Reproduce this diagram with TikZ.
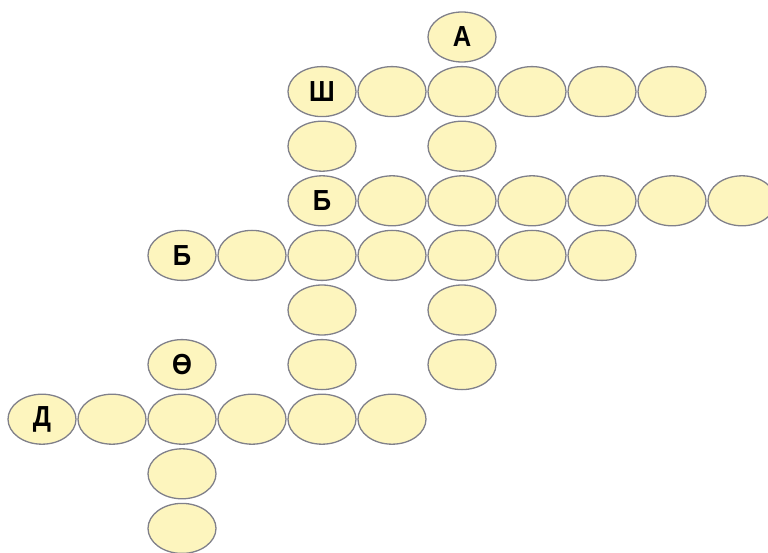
\documentclass[tikz,border=0pt]{standalone}
\usepackage{fontspec}
\setmainfont{Liberation Sans}
\usetikzlibrary{shapes.geometric}
\definecolor{cellfill}{RGB}{253,245,190}
\definecolor{celldraw}{RGB}{128,128,138}
\begin{document}
\begin{tikzpicture}[x=1pt,y=-1pt,
  cell/.style={ellipse, draw=celldraw, fill=cellfill, line width=1.3pt,
    minimum width=68pt, minimum height=50pt, inner sep=0pt,
    font=\fontsize{29}{29}\selectfont\bfseries}]
\useasboundingbox (0,0) rectangle (768,553);
\foreach \r/\c/\t in {
  0/6/А,
  1/4/Ш, 1/5/, 1/6/, 1/7/, 1/8/, 1/9/,
  2/4/, 2/6/,
  3/4/Б, 3/5/, 3/6/, 3/7/, 3/8/, 3/9/, 3/10/,
  4/2/Б, 4/3/, 4/4/, 4/5/, 4/6/, 4/7/, 4/8/,
  5/4/, 5/6/,
  6/2/Ө, 6/4/, 6/6/,
  7/0/Д, 7/1/, 7/2/, 7/3/, 7/4/, 7/5/,
  8/2/,
  9/2/}
  \node[cell] (n\r-\c) at ({42+70*\c},{37+54.6*\r}) {\scalebox{0.88}[1]{\t}};
\end{tikzpicture}
\end{document}
